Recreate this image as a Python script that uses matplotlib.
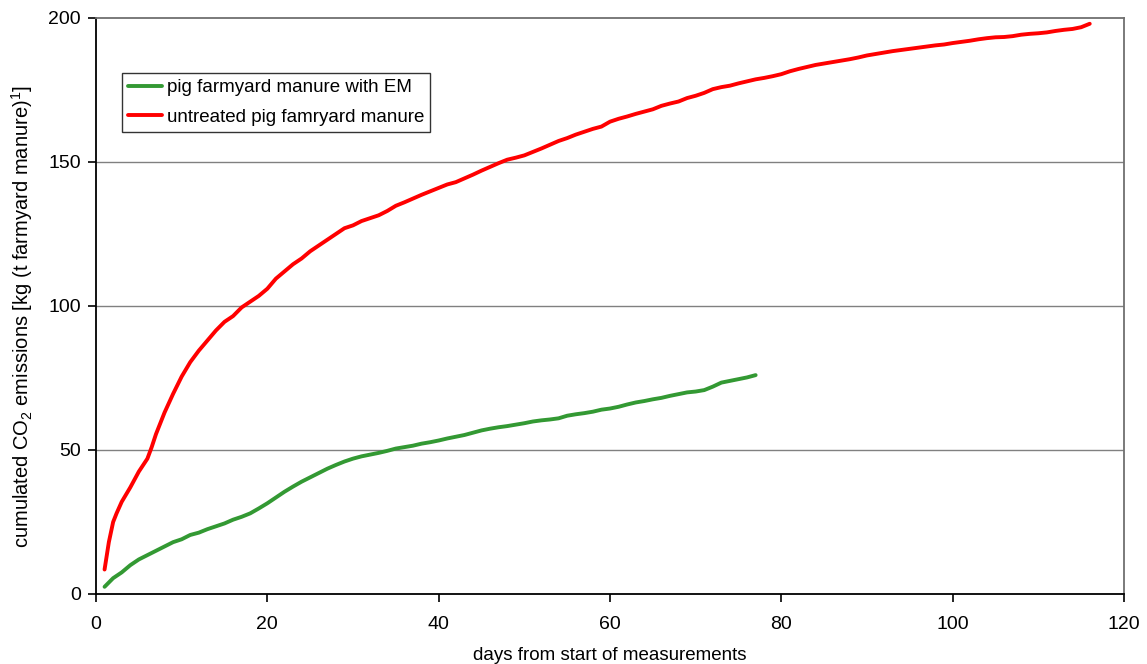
import matplotlib
matplotlib.use("Agg")
import matplotlib.pyplot as plt

plt.rcParams["font.family"] = ["Liberation Sans", "DejaVu Sans"]
plt.rcParams["mathtext.fontset"] = "custom"
plt.rcParams["mathtext.rm"] = "Liberation Sans"
plt.rcParams["mathtext.it"] = "Liberation Sans"

# Cumulated CO2 emissions, kg per t farmyard manure
days_em = list(range(1, 78))
co2_em = [2.5, 5.5, 7.5, 10, 12, 13.5, 15, 16.5, 18, 19,
          20.5, 21.3, 22.5, 23.5, 24.5, 25.8, 26.8, 28, 29.7, 31.5,
          33.5, 35.5, 37.3, 39, 40.5, 42, 43.5, 44.8, 46, 47,
          47.8, 48.4, 49, 49.7, 50.5, 51, 51.5, 52.2, 52.7, 53.3,
          54, 54.6, 55.2, 56, 56.8, 57.4, 57.9, 58.3, 58.8, 59.3,
          59.9, 60.3, 60.6, 61, 61.9, 62.4, 62.8, 63.3, 64, 64.4,
          65, 65.8, 66.5, 67, 67.6, 68.1, 68.8, 69.4, 70, 70.3,
          70.8, 72, 73.4, 74, 74.6, 75.2, 76]

days_untreated = [1, 1.5, 2, 2.4, 3, 4, 5, 6, 6.5, 7, 8, 9, 10] + list(range(11, 117))
co2_untreated = [8.5, 18, 25, 28, 32, 37, 42.5, 47, 51, 55.5, 63, 69.5, 75.5,
                 80.5, 84.5, 88, 91.5, 94.5, 96.5, 99.5, 101.5, 103.5, 106,
                 109.5, 112, 114.5, 116.5, 119, 121, 123, 125, 127, 128,
                 129.5, 130.5, 131.5, 133, 134.8, 136, 137.3, 138.6, 139.8, 141,
                 142.2, 143, 144.3, 145.6, 147, 148.3, 149.6, 150.8, 151.5, 152.3,
                 153.5, 154.7, 156, 157.3, 158.3, 159.5, 160.5, 161.5, 162.3, 164,
                 165, 165.8, 166.7, 167.5, 168.3, 169.5, 170.3, 171, 172.2, 173,
                 174, 175.3, 176, 176.5, 177.3, 178, 178.7, 179.2, 179.8, 180.5,
                 181.5, 182.3, 183, 183.7, 184.2, 184.7, 185.2, 185.7, 186.3, 187,
                 187.5, 188, 188.5, 188.9, 189.3, 189.7, 190.1, 190.5, 190.8, 191.3,
                 191.7, 192.1, 192.6, 193, 193.3, 193.4, 193.7, 194.2, 194.5, 194.7,
                 195, 195.5, 195.9, 196.2, 196.8, 198]

x_ticks = [0, 20, 40, 60, 80, 100, 120]
y_ticks = [0, 50, 100, 150, 200]

fig = plt.figure(figsize=(11.47, 6.64), dpi=100)
ax = fig.add_axes([96 / 1147, 1 - 594 / 664, (1124 - 96) / 1147, (594 - 18) / 664])

for y in y_ticks[1:-1]:
    ax.axhline(y, color="#808080", linewidth=1.0, zorder=0)

ax.plot(days_em, co2_em, color="#339933", linewidth=2.8,
        solid_capstyle="round", label="pig farmyard manure with EM")
ax.plot(days_untreated, co2_untreated, color="#ff0000", linewidth=2.8,
        solid_capstyle="round", label="untreated pig famryard manure")

ax.set_xlim(0, 120)
ax.set_ylim(0, 200)
ax.set_xticks(x_ticks)
ax.set_yticks(y_ticks)
ax.tick_params(axis="both", direction="out", length=6, width=1.2,
               labelsize=14, colors="black")
ax.tick_params(axis="x", pad=9.5)
ax.tick_params(axis="y", pad=5)

for side in ("left", "bottom"):
    ax.spines[side].set_color("black")
    ax.spines[side].set_linewidth(1.3)
for side in ("top", "right"):
    ax.spines[side].set_color("#707070")
    ax.spines[side].set_linewidth(1.3)

ax.set_xlabel("days from start of measurements", fontsize=13.5, labelpad=10.5)
ax.set_ylabel(r"cumulated CO$_2$ emissions [kg (t farmyard manure)$^{1}$]",
              fontsize=14.5)
ax.yaxis.set_label_coords(-0.059, 0.482)

leg = ax.legend(loc="upper left", bbox_to_anchor=(26 / 1028, 1 - 55 / 576),
                fontsize=13.5, frameon=True, fancybox=False, handlelength=1.8,
                handletextpad=0.28, borderpad=0.32, labelspacing=0.68,
                borderaxespad=0)
leg.get_frame().set_edgecolor("black")
leg.get_frame().set_linewidth(1.0)

fig.savefig("out.png", dpi=100, facecolor="white")
